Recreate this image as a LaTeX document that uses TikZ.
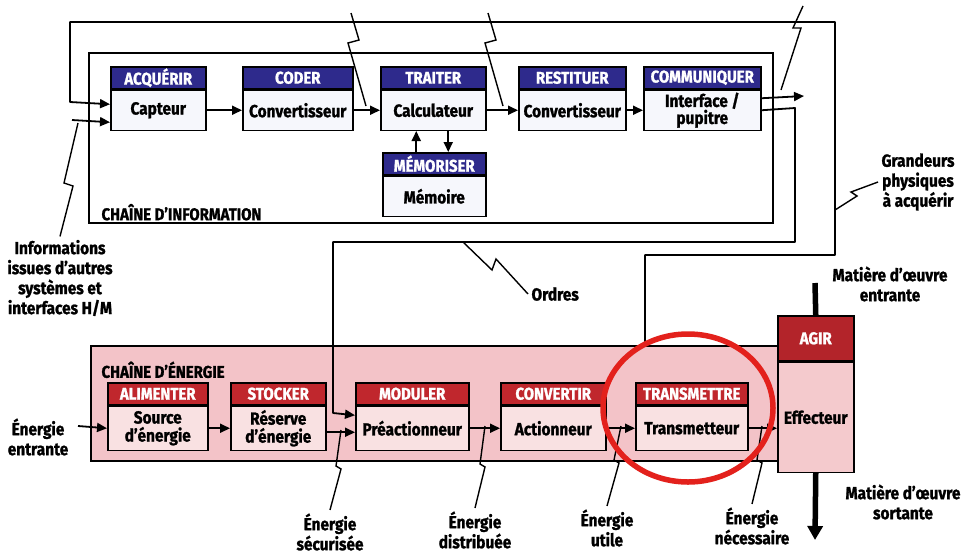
\documentclass[tikz,border=0pt]{standalone}
\usepackage{fontspec}
\setmainfont{Fira Sans}[FakeStretch=0.88, BoldFeatures={FakeBold=1.2}]
\usetikzlibrary{arrows.meta}
\definecolor{iblue}{HTML}{2E2A8C}
\definecolor{ibg}{HTML}{F6F7FC}
\definecolor{ered}{HTML}{C0272D}
\definecolor{agred}{HTML}{B3242A}
\definecolor{ebg}{HTML}{F9E1E2}
\definecolor{eframe}{HTML}{F3C3C8}
\definecolor{agirbg}{HTML}{F4CACD}
\definecolor{circ}{HTML}{E3211C}
\begin{document}
\begin{tikzpicture}[x=1pt,y=-1pt,
  ln/.style={line width=1.8pt, line join=round},
  arr/.style={ln, -{Triangle[length=10pt,width=9pt]}},
  bolt/.style={line width=1.4pt, line join=miter},
  ihd/.style={draw, line width=1.5pt, fill=iblue, text=white, anchor=north west, minimum height=22pt, inner sep=0pt, font=\bfseries\fontsize{17}{17}\selectfont},
  ibd/.style={draw, line width=1.5pt, fill=ibg, anchor=north west, minimum height=40pt, inner sep=0pt, align=center, font=\bfseries\fontsize{17.5}{18}\selectfont},
  ehd/.style={ihd, fill=ered},
  ebd/.style={ibd, fill=ebg, minimum height=44pt},
  frm/.style={draw, line width=1.8pt, anchor=north west, inner sep=0pt},
  lbl/.style={align=center, font=\bfseries\fontsize{17.5}{20}\selectfont},
  ttl/.style={font=\bfseries\fontsize{17}{17}\selectfont},
]
\useasboundingbox[fill=white] (0,0) rectangle (968,555);

% ---------- chaine d'information ----------
\node[frm, minimum width=684pt, minimum height=170pt] (ifr) at (88,52) {};
\node[ttl, anchor=south west] (ifrl) at (98,224) {CHAÎNE D'INFORMATION};

\node[ihd, minimum width=95pt] (acqh) at (110,66) {ACQUÉRIR};
\node[ibd, minimum width=95pt] (acq) at (acqh.south west) {Capteur};
\node[ihd, minimum width=110pt] (codh) at (242,66) {CODER};
\node[ibd, minimum width=110pt] (cod) at (codh.south west) {Convertisseur};
\node[ihd, minimum width=105pt] (trth) at (380,66) {TRAITER};
\node[ibd, minimum width=105pt] (trt) at (trth.south west) {Calculateur};
\node[ihd, minimum width=103pt] (memh) at (382,152) {MÉMORISER};
\node[ibd, minimum width=103pt] (mem) at (memh.south west) {Mémoire};
\node[ihd, minimum width=107pt] (resh) at (518,66) {RESTITUER};
\node[ibd, minimum width=107pt] (res) at (resh.south west) {Convertisseur};
\node[ihd, minimum width=117pt] (comh) at (643,66) {COMMUNIQUER};
\node[ibd, minimum width=117pt, font=\bfseries\fontsize{17.5}{17}\selectfont] (com) at (comh.south west) {Interface /\\pupitre};

\draw[arr] (acq.east) -- (cod.west);
\draw[arr] (cod.east) -- (trt.west);
\draw[arr] (trt.east) -- (res.west);
\draw[arr] (res.east) -- (com.west);
\draw[arr] ([xshift=-18pt]memh.north) -- ([xshift=-18pt]memh.north |- trt.south);
\draw[arr] ([xshift=14pt]memh.north |- trt.south) -- ([xshift=14pt]memh.north);

% ---------- chaine d'energie ----------
\node[frm, fill=eframe, minimum width=687pt, minimum height=115pt] (efr) at (90,345) {};
\node[ttl, anchor=north west] (efrl) at (98,358) {CHAÎNE D'ÉNERGIE};

\node[ehd, minimum width=100pt] (alimh) at (107,382) {ALIMENTER};
\node[ebd, minimum width=100pt] (alim) at (alimh.south west) {Source\\d'énergie};
\node[ehd, minimum width=95pt] (stoh) at (230,382) {STOCKER};
\node[ebd, minimum width=95pt] (sto) at (stoh.south west) {Réserve\\d'énergie};
\node[ehd, minimum width=113pt] (modh) at (355,382) {MODULER};
\node[ebd, minimum width=113pt] (mod) at (modh.south west) {Préactionneur};
\node[ehd, minimum width=105pt] (convh) at (500,382) {CONVERTIR};
\node[ebd, minimum width=105pt] (conv) at (convh.south west) {Actionneur};
\node[ehd, minimum width=112pt] (trsh) at (635,382) {TRANSMETTRE};
\node[ebd, minimum width=112pt] (trs) at (trsh.south west) {Transmetteur};
\node[ehd, fill=agred, minimum width=76pt, minimum height=45pt] (agh) at (777,315) {AGIR};
\node[ebd, fill=agirbg, minimum width=76pt, minimum height=110pt] (agr) at (agh.south west) {Effecteur};

\coordinate (ein) at (78,426);
\draw[arr] (ein) -- (alim.west);
\draw[arr] (alim.east) -- (sto.west);
\draw[arr] ([yshift=-4pt]sto.east) -- ([yshift=-4pt]mod.west);
\draw[arr] (mod.east) -- (conv.west);
\draw[arr] (conv.east) -- (trs.west);
\draw[arr] (trs.east) -- (trs.east -| agr.west);

% ---------- links between the chains ----------
% outer loop : grandeurs physiques a acquerir
\coordinate (gsrc) at (645,345);
\draw[arr] (gsrc) -- (645,255) -- (835,255) -- (835,22) -- (70,22) -- (70,102) -- ([yshift=6pt]acq.west);
% informations issues d'autres systemes
\coordinate (infsrc) at (72,120);
\draw[arr] (infsrc) -- ([yshift=-12pt]acq.west);
% communiquer outputs
\coordinate (comout) at (804,96);
\draw[arr] ([yshift=12pt]com.east) -- (comout);
% ordres
\draw[arr] (com.east) -- (795,108) -- (795,242) -- (333,242) -- (333,413) -- ([yshift=13pt]mod.west);

% matiere d'oeuvre
\coordinate (min) at (815,283);
\coordinate (mout) at (815,540);
\draw[line width=5.5pt] (min) -- (agh.north);
\draw[line width=5.5pt, -{Triangle[length=14pt,width=15pt]}] (agr.south) -- (mout);

% ---------- labels and leaders ----------
\node[lbl] (linf) at (60,278) {Informations\\issues d'autres\\systèmes et\\interfaces H/M};
\draw[bolt] (78,123) -- (64,183) -- (73,186) -- (linf.north);

\node[lbl] (lgr) at (918,182) {Grandeurs\\physiques\\à acquérir};
\draw[bolt] (835,210) -- (857,196) -- (851,192) -- (lgr.west);

\node[lbl, anchor=west] (lord) at (528,294) {Ordres};
\draw[bolt] (463,242) -- (492,270) -- (496,259) -- (lord.west);

\coordinate (z1) at (351,13);
\coordinate (z2) at (488,13);
\coordinate (z3) at (803,6);
\draw[bolt] (z1) -- (359,40) -- (348,43) -- (366,106);
\draw[bolt] (z2) -- (496,40) -- (485,43) -- (503,106);
\draw[bolt] (z3) -- (793,28) -- (801,28) -- (781,90);

\node[lbl] (lent) at (38,437) {Énergie\\entrante};
\node[lbl] (lsec) at (330,532) {Énergie\\sécurisée};
\node[lbl] (ldis) at (475,530) {Énergie\\distribuée};
\node[lbl] (luti) at (607,528) {Énergie\\utile};
\node[lbl] (lnec) at (752,526) {Énergie\\nécessaire};
\draw[bolt] (341,430) -- (336,466) -- (341,469) -- (lsec.north);
\draw[bolt] (485,426) -- (480,464) -- (485,467) -- (ldis.north);
\draw[bolt] (621,426) -- (614,460) -- (619,463) -- (luti.north);
\draw[bolt] (762,426) -- (757,460) -- (762,463) -- (lnec.north);

\node[lbl] (lme) at (890,284) {Matière d'œuvre\\entrante};
\node[lbl] (lms) at (903,502) {Matière d'œuvre\\sortante};

% red highlight
\draw[circ, line width=5.5pt] (688,408) ellipse [x radius=85pt, y radius=74pt];
\end{tikzpicture}
\end{document}
